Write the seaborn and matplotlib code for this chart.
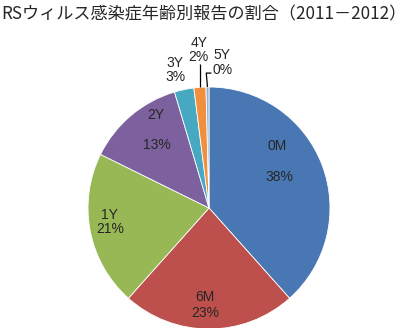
import numpy as np
import matplotlib
matplotlib.use("Agg")
import matplotlib.pyplot as plt
import seaborn as sns

categories = ["0M", "6M", "1Y", "2Y", "3Y", "4Y", "5Y"]
values = [38.4, 23.2, 20.7, 13.1, 2.6, 1.6, 0.4]
pct_labels = ["38%", "23%", "21%", "13%", "3%", "2%", "0%"]
colors = ["#4877B3", "#BD4F4C", "#98B856", "#7C619E", "#47A8C1", "#F0903F", "#95B3D7"]
title = "RSウィルス感染症年齢別報告の割合（2011－2012）"

# label placement (axes data units, pie radius = 1): (name x, name y, pct x, pct y)
label_pos = [
    (0.56, 0.51, 0.58, 0.255),
    (-0.03, -0.735, -0.03, -0.87),
    (-0.82, -0.06, -0.82, -0.175),
    (-0.44, 0.77, -0.43, 0.52),
    (-0.28, 1.20, -0.28, 1.085),
    (-0.083, 1.365, -0.09, 1.25),
    (0.105, 1.265, 0.115, 1.14),
]

sns.set_theme(style="white")
plt.rcParams['font.family'] = ['Liberation Sans', 'Noto Sans CJK JP', 'DejaVu Sans']

W, H = 407, 328
fig = plt.figure(figsize=(W / 100, H / 100), dpi=100)
cx, cy, r = 209, 208, 121
ax = fig.add_axes([(cx - r) / W, (H - cy - r) / H, 2 * r / W, 2 * r / H])

wedges, _ = ax.pie(values, colors=colors, startangle=90, counterclock=False,
                   radius=1, wedgeprops=dict(edgecolor="white", linewidth=0.6))
ax.set_xlim(-1, 1)
ax.set_ylim(-1, 1)
ax.axis("off")

total = sum(values)
cum = np.cumsum([0] + values[:-1])
mid = [(c + v / 2) / total for c, v in zip(cum, values)]

def pos(frac, rr):
    a = np.deg2rad(90 - 360 * frac)
    return rr * np.cos(a), rr * np.sin(a)

fs = 10
for i in range(len(values)):
    nx, ny, px, py = label_pos[i]
    ax.text(nx, ny, categories[i], ha="center", va="center", fontsize=fs, clip_on=False)
    ax.text(px, py, pct_labels[i], ha="center", va="center", fontsize=fs, clip_on=False)

# 4Y vertical leader
x, y = pos(mid[5], 1.0)
ax.plot([x, x], [y, 1.19], color="black", lw=0.9, clip_on=False,
        solid_capstyle="butt")
# 5Y bent leader
x, y = pos(mid[6], 1.0)
ax.plot([x, x - 0.01, 0.02], [y, 1.115, 1.115], color="black", lw=0.9, clip_on=False,
        solid_capstyle="butt")

fig.text(0.5, 1 - 14 / H, title, ha="center", va="center", fontsize=12.3,
         family=['Noto Sans CJK JP', 'DejaVu Sans'])

fig.savefig("out.png", dpi=100)
